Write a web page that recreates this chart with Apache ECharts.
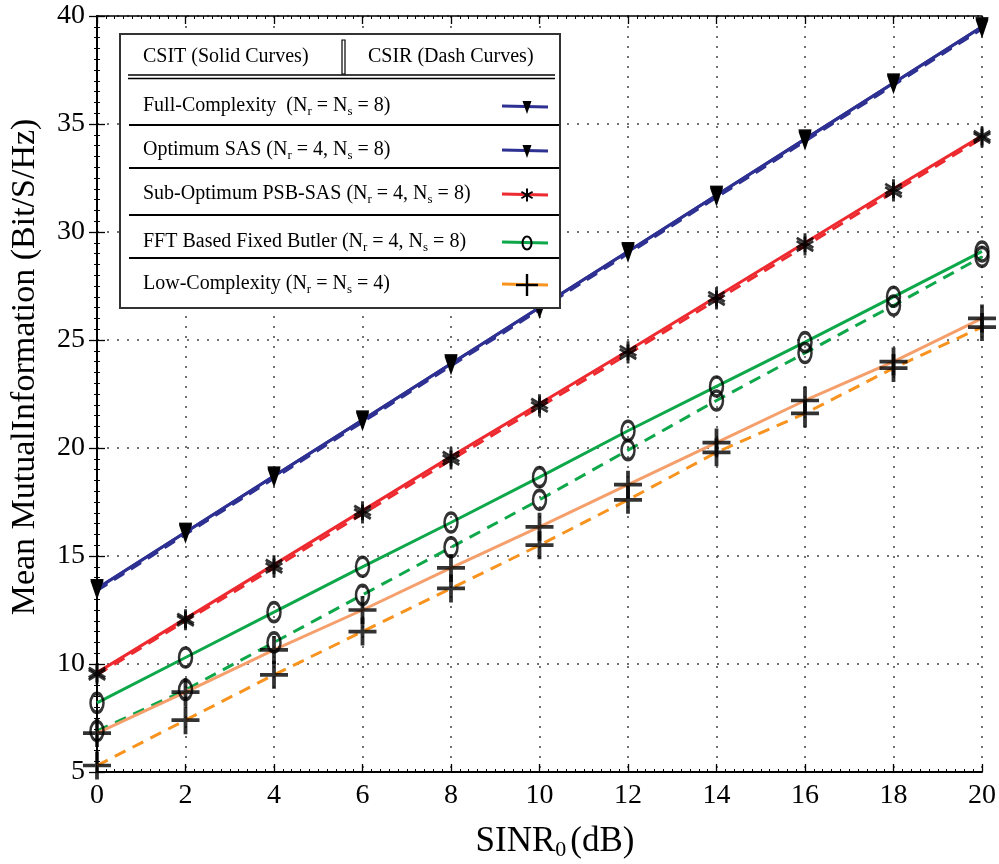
<!DOCTYPE html>
<html>
<head>
<meta charset="utf-8">
<script src="https://cdn.jsdelivr.net/npm/echarts@6/dist/echarts.min.js"></script>
<style>html,body{margin:0;padding:0;background:#fff}#c{width:999px;height:864px}</style>
</head>
<body>
<div id="c"></div>
<script>
// ---- data ----
const xValues = [0, 2, 4, 6, 8, 10, 12, 14, 16, 18, 20];
const fullCsit = [13.5, 16.1, 18.7, 21.3, 23.9, 26.5, 29.1, 31.7, 34.3, 36.9, 39.5];
const fullCsir = [13.45, 16.05, 18.65, 21.25, 23.85, 26.45, 29.05, 31.65, 34.25, 36.85, 39.45];
const optCsit = [13.5, 16.1, 18.7, 21.3, 23.9, 26.5, 29.1, 31.7, 34.3, 36.9, 39.5];
const optCsir = [13.4, 16.0, 18.6, 21.2, 23.8, 26.4, 29.0, 31.6, 34.2, 36.8, 39.4];
const subCsit = [9.6, 12.1, 14.6, 17.1, 19.6, 22.05, 24.5, 27.0, 29.5, 32.0, 34.45];
const subCsir = [9.5, 12.0, 14.45, 16.95, 19.45, 21.9, 24.35, 26.85, 29.35, 31.85, 34.35];
const fftCsit = [8.2, 10.3, 12.4, 14.5, 16.55, 18.65, 20.8, 22.85, 24.9, 27.0, 29.1];
const fftCsir = [6.9, 8.8, 11.0, 13.2, 15.4, 17.6, 19.9, 22.2, 24.4, 26.6, 28.85];
const lowCsit = [6.8, 8.7, 10.65, 12.5, 14.45, 16.35, 18.3, 20.25, 22.2, 24.0, 26.0];
const lowCsir = [5.3, 7.4, 9.5, 11.5, 13.5, 15.5, 17.6, 19.8, 21.6, 23.7, 25.6];

const legendHeader = ['CSIT (Solid Curves)', 'CSIR (Dash Curves)'];
const legendRows = [
  '{t|Full-Complexity  (N}{s|r}{t| = N}{s|s}{t| = 8)}',
  '{t|Optimum SAS (N}{s|r}{t| = 4, N}{s|s}{t| = 8)}',
  '{t|Sub-Optimum PSB-SAS (N}{s|r}{t| = 4, N}{s|s}{t| = 8)}',
  '{t|FFT Based Fixed Butler (N}{s|r}{t| = 4, N}{s|s}{t| = 8)}',
  '{t|Low-Complexity (N}{s|r}{t| = N}{s|s}{t| = 4)}'
];
const xName = '{a|SINR}{s|0}{b|(dB)}';
const yName = 'Mean MutualInformation (Bit/S/Hz)';

// ---- styles ----
const FONT = 'Liberation Serif';
const BLUE = '#2e3192', RED = '#ed2a2f', GREEN = '#0ea84b', ORANGE_S = '#f5a06c', ORANGE_D = '#f7931e';
const triPath = 'path://M0,0 L10,0 L5,14 Z';
const plusPath = 'path://M0,11.5 L26,11.5 L26,15 L0,15 Z M11.25,0 L14.75,0 L14.75,26.5 L11.25,26.5 Z';
const starPath = 'path://M8.5,0 L11.5,0 L11.5,20 L8.5,20 Z M0.69,6.13 L2.19,3.53 L19.31,13.87 L17.81,16.47 Z M17.81,3.53 L19.31,6.13 L2.19,16.47 L0.69,13.87 Z';

const groups = [
  {d: fullCsit, c: BLUE, dash: false, m: 'tri'},
  {d: fullCsir, c: BLUE, dash: true, m: 'tri'},
  {d: optCsit, c: BLUE, dash: false, m: 'tri'},
  {d: optCsir, c: BLUE, dash: true, m: 'tri'},
  {d: subCsit, c: RED, dash: false, m: 'star'},
  {d: subCsir, c: RED, dash: true, m: 'star'},
  {d: fftCsit, c: GREEN, dash: false, m: 'o'},
  {d: fftCsir, c: GREEN, dash: true, m: 'o'},
  {d: lowCsit, c: ORANGE_S, dash: false, m: 'plus'},
  {d: lowCsir, c: ORANGE_D, dash: true, m: 'plus'}
];

function markerStyle(m) {
  if (m === 'tri') return {symbol: triPath, symbolSize: [13, 19], itemStyle: {color: '#000'}};
  if (m === 'star') return {symbol: starPath, symbolSize: [18, 19], itemStyle: {color: '#000'}};
  if (m === 'plus') return {symbol: plusPath, symbolSize: [28, 28], itemStyle: {color: '#000'}};
  return {symbol: 'circle', symbolSize: [13, 19], itemStyle: {color: 'rgba(0,0,0,0)', borderColor: '#000', borderWidth: 3}};
}

const series = [];
groups.forEach(g => {
  series.push({
    type: 'line', data: xValues.map((x, i) => [x, g.d[i]]), symbol: 'none', z: 2,
    lineStyle: {color: g.c, width: 3, type: g.dash ? [12, 8] : 'solid'}, silent: true
  });
});
groups.forEach(g => {
  series.push(Object.assign({
    type: 'scatter', data: xValues.map((x, i) => [x, g.d[i]]), z: 4, silent: true
  }, markerStyle(g.m)));
});

// ---- legend (drawn as graphic table) ----
const LX = 120, LY = 34, LW = 440, LH = 274;
const rowY = [106, 150, 194, 242, 284];
const sepY = [125, 168, 215, 258];
const richLeg = {
  t: {fontFamily: FONT, fontSize: 20, lineHeight: 24, color: '#000'},
  s: {fontFamily: FONT, fontSize: 13, lineHeight: 11, verticalAlign: 'bottom', color: '#000'}
};
const legendMarkers = ['tri', 'tri', 'star', 'o', 'plus'];
const legendColors = [BLUE, BLUE, RED, GREEN, ORANGE_D];
const graphic = [
  {type: 'rect', z: 100, shape: {x: LX, y: LY, width: LW, height: LH}, style: {fill: '#fff', stroke: '#333', lineWidth: 2}},
  {type: 'text', z: 101, x: 143, y: 57, style: {text: legendHeader[0], font: '20px "Liberation Serif"', fill: '#000', verticalAlign: 'middle'}},
  {type: 'text', z: 101, x: 368, y: 57, style: {text: legendHeader[1], font: '20px "Liberation Serif"', fill: '#000', verticalAlign: 'middle'}},
  {type: 'rect', z: 101, shape: {x: 342, y: 40, width: 3, height: 34}, style: {fill: '#fff', stroke: '#000', lineWidth: 1.2}},
  {type: 'line', z: 101, shape: {x1: 128, y1: 75, x2: 555, y2: 75}, style: {stroke: '#000', lineWidth: 1.5}},
  {type: 'line', z: 101, shape: {x1: 128, y1: 78.5, x2: 555, y2: 78.5}, style: {stroke: '#000', lineWidth: 1.5}}
];
sepY.forEach(y => graphic.push({type: 'line', z: 101, shape: {x1: 129, y1: y, x2: 559, y2: y}, style: {stroke: '#000', lineWidth: 2}}));
legendRows.forEach((t, i) => {
  const y = rowY[i];
  graphic.push({type: 'text', z: 101, x: 143, y: y, style: {text: t, rich: richLeg, fill: '#000', verticalAlign: 'middle', align: 'left'}});
  graphic.push({type: 'line', z: 101, shape: {x1: 502, y1: y, x2: 548, y2: y + 1}, style: {stroke: legendColors[i], lineWidth: 3}});
  const m = legendMarkers[i];
  const cx = 527, cy = y + 1;
  if (m === 'o') {
    graphic.push({type: 'ellipse', z: 102, shape: {cx: cx, cy: cy, rx: 4.5, ry: 6.5}, style: {fill: 'none', stroke: '#000', lineWidth: 2}});
  } else if (m === 'tri') {
    graphic.push({type: 'polygon', z: 102, shape: {points: [[cx - 4.5, cy - 6], [cx + 4.5, cy - 6], [cx, cy + 7]]}, style: {fill: '#000'}});
  } else if (m === 'star') {
    [[0, 6.5], [5.6, 3.25], [-5.6, 3.25]].forEach(p => graphic.push({type: 'line', z: 102,
      shape: {x1: cx - p[0], y1: cy - p[1], x2: cx + p[0], y2: cy + p[1]}, style: {stroke: '#000', lineWidth: 2}}));
  } else {
    graphic.push({type: 'line', z: 102, shape: {x1: cx - 11, y1: cy, x2: cx + 11, y2: cy}, style: {stroke: '#000', lineWidth: 2.4}});
    graphic.push({type: 'line', z: 102, shape: {x1: cx, y1: cy - 11, x2: cx, y2: cy + 11}, style: {stroke: '#000', lineWidth: 2.4}});
  }
});
// axis titles
graphic.push({type: 'text', z: 50, x: 555, y: 842, style: {text: xName, fill: '#000', align: 'center', verticalAlign: 'middle',
  rich: {a: {fontFamily: FONT, fontSize: 35, lineHeight: 38, color: '#000'},
         s: {fontFamily: FONT, fontSize: 22, lineHeight: 20, verticalAlign: 'bottom', color: '#000', padding: [0, 4, 0, 0]},
         b: {fontFamily: FONT, fontSize: 35, lineHeight: 38, color: '#000'}}}});
graphic.push({type: 'text', z: 50, x: 25, y: 367, rotation: Math.PI / 2, style: {text: yName, font: '34px "Liberation Serif"', fill: '#000', align: 'center', verticalAlign: 'middle'}});

const splitLine = {show: true, lineStyle: {type: [2, 8], color: '#444', width: 1.5}};
const axisLine = {show: true, lineStyle: {color: '#000', width: 2}};
const tick = {show: true, inside: true, length: 8, lineStyle: {color: '#000', width: 1.3}};
const minor = {show: true, splitNumber: 10, length: 3, lineStyle: {color: '#000', width: 1}};
const lbl = {fontFamily: FONT, fontSize: 28, color: '#000'};

const option = {
  animation: false,
  backgroundColor: '#fff',
  grid: {left: 97, right: 16, top: 16, bottom: 92, containLabel: false},
  xAxis: [
    {type: 'value', min: 0, max: 20, interval: 2, position: 'bottom', axisLine, axisTick: tick, minorTick: minor,
      axisLabel: Object.assign({margin: 10}, lbl), splitLine},
    {type: 'value', min: 0, max: 20, interval: 2, position: 'top', axisLine: {show: true, lineStyle: {color: '#000', width: 1.5}},
      axisTick: tick, minorTick: minor, axisLabel: {show: false}, splitLine: {show: false}}
  ],
  yAxis: [
    {type: 'value', min: 5, max: 40, interval: 5, position: 'left', axisLine, axisTick: tick, minorTick: minor,
      axisLabel: Object.assign({margin: 12}, lbl), splitLine},
    {type: 'value', min: 5, max: 40, interval: 5, position: 'right', axisLine: {show: true, lineStyle: {color: '#000', width: 1.5}},
      axisTick: tick, minorTick: minor, axisLabel: {show: false}, splitLine: {show: false}}
  ],
  series,
  graphic
};
const chart = echarts.init(document.getElementById('c'), null, {renderer: 'canvas'});
chart.setOption(option);
</script>
</body>
</html>
